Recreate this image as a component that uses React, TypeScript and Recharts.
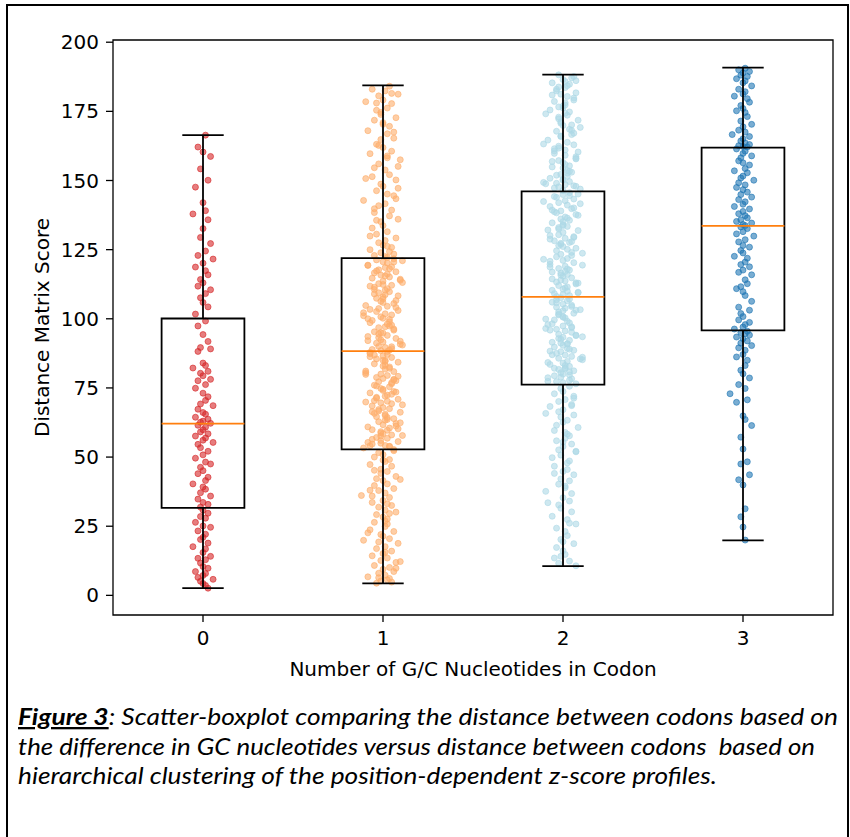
import React from "react";
import {
  ComposedChart,
  Scatter,
  XAxis,
  YAxis,
  ReferenceArea,
  ReferenceLine,
} from "recharts";

// categories on the x axis (number of G/C nucleotides)
const categories = [0, 1, 2, 3];
const colors = ["#d62728", "#fdae6b", "#add8e6", "#1f77b4"];
const yTicks = [0, 25, 50, 75, 100, 125, 150, 175, 200];

// box statistics
const whiskerLow = [2.6, 4.3, 10.6, 19.9];
const q1 = [31.6, 52.8, 76.2, 95.8];
const median = [62.1, 88.3, 107.9, 133.6];
const q3 = [100.1, 121.9, 146.1, 161.9];
const whiskerHigh = [166.4, 184.4, 188.3, 190.8];

// scatter values per group (score) and horizontal jitter (in jitter units)
const g0Y = [
  166.4, 162.1, 160.3, 158.7, 154.2, 150.1, 147.6, 142.0, 139.1, 137.9,
  135.8, 132.6, 129.4, 127.2, 124.5, 122.9, 121.6, 120.1, 118.7, 117.4,
  115.9, 114.2, 113.0, 111.8, 110.5, 109.1, 107.6, 105.9, 104.3, 101.7,
  99.2, 97.4, 94.3, 91.8, 89.6, 89.1, 88.2, 84.0, 83.1, 82.2,
  81.0, 80.3, 79.4, 78.1, 77.6, 76.2, 74.9, 73.1, 71.8, 70.5,
  69.2, 68.6, 67.3, 66.1, 65.5, 64.4, 63.7, 63.0, 62.6, 62.2,
  61.5, 60.8, 59.9, 59.1, 58.4, 57.6, 56.9, 56.1, 55.3, 54.6,
  53.4, 52.1, 50.8, 49.6, 48.2, 47.5, 46.3, 45.1, 44.0, 42.7,
  41.5, 40.3, 39.2, 38.4, 37.1, 35.9, 34.8, 33.6, 32.9, 31.9,
  30.8, 29.7, 28.5, 27.9, 26.4, 25.1, 24.6, 23.3, 22.1, 21.0,
  20.2, 18.9, 17.6, 16.8, 15.5, 14.1, 13.4, 12.9, 11.7, 10.4,
  9.8, 8.6, 7.9, 7.2, 6.5, 5.8, 5.1, 4.3, 3.6, 2.6,
];
const g0Jitter = [
  1, -2, 0, 3, -1, 2, -3, 0, 1, -4,
  2, 0, -1, 3, 1, -2, 4, 0, -3, 1,
  2, -1, 0, -2, 3, 1, -1, 0, 2, -3,
  1, -2, 0, 2, -1, 3, -2, 0, 1, -4,
  2, -1, 0, 3, -2, 1, -3, 0, 2, 1,
  -1, 4, -2, 0, 1, -3, 2, 0, -1, 3,
  -2, 1, 0, -1, 2, -3, 1, 0, 4, -2,
  -1, 2, 0, -3, 1, 3, -1, 0, -2, 2,
  1, -4, 0, 1, -1, 3, -2, 0, 2, -1,
  0, 2, -1, 1, -3, 0, 3, -2, 1, 0,
  -1, 2, -4, 1, 0, 3, -2, 1, -1, 0,
  2, -3, 1, 0, -2, 4, -1, 0, 1, 2,
];

const g1Y = [
  184.1, 183.0, 182.4, 181.2, 180.6, 179.1, 178.5, 177.8, 176.2, 175.4,
  173.9, 172.7, 171.8, 170.3, 169.6, 168.0, 166.9, 165.3, 164.8, 163.1,
  161.9, 160.6, 159.7, 158.2, 157.5, 156.0, 154.6, 153.8, 152.1, 151.4,
  150.2, 148.7, 147.9, 146.3, 145.1, 144.5, 142.8, 141.6, 140.9, 139.3,
  138.4, 137.2, 136.0, 135.1, 133.7, 132.8, 131.5, 130.6, 129.2, 128.3,
  127.5, 126.6, 125.8, 125.0, 124.3, 123.9, 123.4, 122.9, 122.5, 122.2,
  121.7, 121.3, 120.6, 120.2, 119.4, 118.8, 118.5, 117.7, 117.0, 116.6,
  115.8, 115.1, 114.7, 113.9, 113.6, 112.7, 112.1, 111.8, 110.9, 110.3,
  109.8, 109.0, 108.7, 107.9, 107.4, 106.6, 106.3, 105.5, 104.8, 104.5,
  103.7, 103.0, 102.6, 101.8, 101.4, 100.7, 100.2, 99.4, 98.9, 98.6,
  97.7, 97.1, 96.8, 95.9, 95.3, 94.8, 94.0, 93.6, 92.9, 92.4,
  91.6, 91.2, 90.5, 90.0, 89.6, 89.2, 88.9, 88.7, 88.5, 88.2,
  87.8, 87.1, 86.6, 86.0, 85.5, 84.6, 84.3, 83.7, 82.9, 82.6,
  81.8, 81.1, 80.9, 80.0, 79.5, 78.8, 78.4, 77.6, 77.2, 76.5,
  76.0, 75.4, 74.8, 74.5, 73.7, 73.2, 72.4, 72.0, 71.3, 70.9,
  70.2, 69.6, 69.3, 68.5, 67.9, 67.5, 66.7, 66.2, 65.8, 65.0,
  64.6, 63.9, 63.3, 62.8, 62.1, 61.7, 60.9, 60.5, 59.7, 59.2,
  58.4, 58.0, 57.1, 56.8, 56.0, 55.6, 54.7, 54.2, 53.8, 53.3,
  52.7, 51.6, 50.9, 50.0, 49.1, 48.4, 47.3, 46.7, 45.6, 44.8,
  44.1, 43.0, 42.2, 41.5, 40.3, 39.7, 38.6, 37.9, 37.0, 36.1,
  35.4, 34.3, 33.6, 32.5, 31.9, 30.8, 30.1, 29.2, 28.3, 27.6,
  26.4, 25.8, 24.9, 23.7, 23.1, 22.0, 21.4, 20.5, 19.3, 18.8,
  17.6, 16.9, 16.0, 15.1, 14.3, 13.5, 12.6, 11.9, 10.8, 10.1,
  9.4, 8.6, 8.0, 7.3, 6.7, 6.1, 5.6, 5.2, 4.8, 4.4,
  119.3, 116.2, 113.1, 110.6, 107.2, 104.1, 101.1, 97.4, 94.5, 91.9,
  89.9, 86.3, 83.2, 80.5, 77.9, 74.1, 71.6, 68.9, 66.4, 63.6,
  60.2, 57.6, 55.3, 118.1, 114.3, 111.4, 105.9, 102.2, 96.3, 93.2,
  87.4, 84.9, 79.2, 75.7, 72.7, 69.9, 64.3, 61.2, 58.7, 56.4,
  121.0, 109.4, 99.8, 92.1, 85.0, 78.1, 70.4, 62.4, 54.1, 115.5,
  135.6, 143.4, 150.7, 158.9, 167.5, 174.6, 181.5, 129.9, 155.1, 162.7,
  48.9, 41.9, 35.9, 29.6, 22.6, 15.6, 9.8, 45.2, 33.1, 19.9,
  120.5, 117.3, 112.4, 108.3, 103.4, 98.1, 95.0, 90.8, 86.9, 82.1,
  79.9, 76.9, 73.5, 67.2, 65.5, 59.9, 57.8, 55.0, 53.9, 100.0,
  126.2, 139.8, 147.2, 170.9, 178.0, 52.3, 38.0, 26.9, 12.2, 6.4,
];
const g1Jitter = [
  3, -5, 1, 7, -2, 0, -8, 4, 2, -3,
  -1, 6, -4, 0, 3, -7, 2, 5, -1, -3,
  0, 4, -6, 2, 8, -2, -4, 1, 3, -5,
  6, -1, 0, -3, 2, 5, -9, 1, -2, 4,
  -4, 3, 7, -1, 0, -5, 2, -3, 6, 1,
  -2, 0, 4, -6, 3, -1, 5, -4, 1, 2,
  5, -3, 0, 2, -7, 4, 1, -2, 6, -4,
  -1, 3, -5, 8, 0, -2, 4, -6, 2, 1,
  3, -4, 1, 0, -3, 6, -1, 5, -8, 2,
  -2, 7, -3, 1, 4, -1, 0, -5, 3, -6,
  4, 1, -2, 5, -4, 0, 2, -7, 6, -1,
  0, -3, 9, -2, 1, 4, -5, 3, -1, 2,
  -6, 2, 0, 4, -3, 1, 7, -4, 0, 3,
  1, -8, 5, -1, 2, -3, 0, 6, -2, 4,
  -4, 3, -1, 0, 5, -6, 2, 1, -3, 7,
  2, -1, 4, -5, 0, 3, -2, 8, -4, 1,
  -3, 5, 1, -2, 6, 0, -7, 3, 2, -1,
  0, 4, -3, 2, -1, 7, -5, 1, 3, -9,
  5, -2, 0, -4, 3, 1, -6, 4, -1, 2,
  -1, 6, -3, 0, 2, -4, 5, -2, 1, -10,
  3, 0, -5, 4, -2, 1, 6, -3, 0, 2,
  -4, 2, 1, -6, 5, -1, 0, 3, -2, 7,
  1, -3, 4, 0, -5, 2, -1, 6, -4, 3,
  0, 5, -2, 1, -7, 3, 2, -1, 4, -3,
  -7, 2, 9, -4, 0, 6, -9, 3, -2, 8,
  4, -6, 1, -8, 5, 0, -3, 9, -5, 2,
  7, -1, -7, 3, 8, -4, 0, -9, 5, -2,
  -6, 1, 7, -3, 4, -8, 2, 6, -1, -5,
  9, -2, 3, -7, 0, 5, -4, 8, -6, 1,
  -3, 6, -8, 2, 5, -1, 4, -6, 7, -2,
  0, 8, -5, 3, -7, 1, 6, -4, 2, -9,
  5, -3, 0, 7, -6, 2, -1, 8, -4, 3,
  -8, 4, 6, -2, 1, -5, 9, -1, 3, -7,
  2, -4, 7, 0, -3, 5, -6, 1, 8, -2,
];

const g2Y = [
  188.2, 187.1, 186.5, 185.3, 184.8, 183.6, 183.0, 181.7, 181.2, 180.4,
  179.1, 178.6, 177.3, 176.9, 175.5, 174.8, 173.6, 172.9, 171.8, 170.7,
  169.9, 168.5, 167.8, 166.6, 165.9, 164.6, 163.8, 162.9, 161.7, 161.0,
  159.8, 159.1, 158.0, 157.2, 156.5, 155.3, 154.9, 153.6, 153.0, 152.2,
  151.5, 150.8, 150.1, 149.6, 149.0, 148.5, 148.1, 147.7, 147.3, 146.9,
  155.8, 162.4, 168.1, 176.2, 180.9, 184.3, 171.2, 158.6, 151.9, 146.4,
  145.6, 144.9, 144.2, 143.3, 142.7, 142.0, 141.1, 140.6, 139.8, 139.0,
  138.3, 137.7, 136.8, 136.1, 135.6, 134.7, 134.0, 133.4, 132.5, 131.9,
  131.2, 130.4, 129.7, 129.1, 128.2, 127.6, 126.9, 126.1, 125.5, 124.6,
  124.0, 123.3, 122.4, 121.8, 121.1, 120.3, 119.7, 119.0, 118.2, 117.6,
  116.9, 116.0, 115.4, 114.8, 114.0, 113.3, 112.6, 112.0, 111.2, 110.7,
  110.0, 109.6, 109.1, 108.8, 108.4, 127.3, 133.0, 140.1, 118.7, 113.7,
  107.6, 107.1, 106.5, 106.0, 105.3, 104.9, 104.2, 103.8, 103.1, 102.5,
  102.0, 101.4, 100.8, 100.3, 99.6, 99.1, 98.5, 97.9, 97.4, 96.8,
  96.2, 95.6, 95.1, 94.4, 93.9, 93.3, 92.6, 92.2, 91.5, 91.0,
  90.4, 89.8, 89.3, 88.6, 88.1, 87.5, 86.9, 86.4, 85.7, 85.2,
  84.6, 84.0, 83.5, 82.8, 82.3, 81.7, 81.2, 80.5, 80.0, 79.4,
  78.9, 78.3, 77.8, 77.3, 76.9, 76.5, 98.2, 90.9, 83.1, 101.7,
  75.6, 74.8, 73.7, 72.9, 72.0, 70.8, 70.1, 69.0, 68.3, 67.1,
  66.4, 65.2, 64.5, 63.3, 62.6, 61.5, 60.7, 59.6, 58.9, 57.7,
  56.8, 55.9, 54.7, 53.8, 52.6, 51.9, 50.7, 49.8, 48.6, 47.9,
  46.7, 45.5, 44.8, 43.6, 42.1, 41.4, 40.2, 38.9, 37.6, 36.8,
  35.3, 34.1, 32.7, 31.5, 30.2, 28.6, 27.4, 25.8, 24.3, 23.1,
  21.6, 20.2, 18.7, 17.3, 16.1, 14.8, 13.5, 12.4, 11.6, 10.7,
  186.1, 182.4, 178.1, 174.1, 170.1, 166.1, 160.3, 156.9, 152.7, 149.3,
  144.5, 141.6, 138.7, 135.1, 132.1, 129.4, 126.5, 123.7, 120.8, 117.1,
  114.4, 111.5, 109.4, 105.8, 102.9, 99.9, 97.1, 94.1, 91.2, 88.3,
  85.5, 82.1, 79.7, 77.4, 185.8, 179.8, 172.3, 163.2, 157.8, 150.4,
  143.9, 137.4, 130.1, 125.1, 119.4, 115.8, 110.3, 104.4, 96.5, 89.0,
  81.9, 78.7, 187.6, 176.6, 169.2, 160.7, 154.5, 147.9, 142.4, 136.4,
  128.8, 122.9, 116.5, 112.9, 106.9, 100.6, 93.5, 87.0, 80.8, 183.8,
  71.3, 65.8, 58.3, 52.1, 44.1, 39.5, 33.5, 26.1, 19.4, 14.1,
  145.1, 139.3, 133.7, 127.9, 121.5, 118.0, 113.0, 108.1, 103.3, 95.9,
  92.9, 86.1, 84.2, 174.3, 167.1, 161.5, 153.3, 148.8, 68.6, 55.4,
];
const g2Jitter = [
  -2, 4, 0, -5, 3, 1, -3, 6, -1, 2,
  5, -4, 1, 0, -6, 3, 2, -2, 7, -1,
  0, 3, -3, 4, -1, -7, 2, 5, -2, 1,
  -4, 1, 6, -2, 0, 3, -5, 2, 4, -1,
  2, -6, 0, 3, -3, 1, 5, -2, -4, 8,
  1, -2, 4, 0, -5, 2, -1, 6, -3, 0,
  3, 0, -4, 5, 1, -2, 2, -6, 4, -1,
  -3, 6, 1, -1, 3, -5, 0, 2, -2, 7,
  0, -2, 5, 1, -4, 3, -1, 0, 6, -3,
  4, -1, -3, 2, 0, 5, -6, 1, -2, 3,
  -5, 2, 0, 4, -1, -3, 6, -2, 1, 0,
  2, 7, -4, 0, 3, -1, -2, 5, -6, 1,
  -1, 3, 2, -5, 0, 4, -3, 1, 6, -2,
  5, -2, 0, 1, -4, 2, 3, -7, 0, 4,
  -3, 1, 4, -2, 6, 0, -1, 3, -5, 2,
  0, -4, 2, 5, -1, -3, 1, 4, -2, 9,
  2, 0, -6, 3, 1, -2, 5, -1, 0, -4,
  -1, 4, 3, -3, 0, 6, -5, 2, 1, -2,
  3, -1, 0, -4, 5, 1, -2, 4, -6, 0,
  -2, 5, -1, 2, 0, -3, 7, -4, 1, 3,
  1, -3, 4, 0, -2, 6, -1, -5, 3, 2,
  -4, 2, 0, 5, -1, 3, -2, 1, -8, 4,
  0, 3, -2, -1, 4, -5, 2, 6, -3, 1,
  2, -1, 5, -3, 0, 1, -4, 3, -2, 6,
  6, -3, 1, -8, 4, -1, 7, -5, 2, -9,
  3, 8, -4, 0, -7, 5, -2, 9, -6, 1,
  -5, 2, 7, -3, 0, -8, 4, 6, -1, -6,
  8, -4, 3, -7, 1, 5, -2, -9, 6, 0,
  -3, 7, -6, 2, 9, -1, -5, 4, -8, 3,
  1, -7, 5, -2, 8, -4, 0, 6, -9, 2,
  -6, 4, -1, 7, -3, 0, 9, -5, 3, -2,
  5, -8, 2, 6, -4, 1, -7, 3, 0, -1,
  7, -5, 0, 4, -9, 2, 6, -3, 8, -6,
  -2, 9, -7, 1, 5, -4, 3, -8, 4, 0,
];

const g3Y = [
  190.6, 190.0, 189.4, 188.9, 188.1, 187.6, 186.8, 186.0, 185.3, 184.2,
  183.0, 182.1, 181.3, 180.5, 179.6, 178.3, 177.1, 176.0, 175.2, 174.6,
  173.1, 171.5, 170.3, 169.4, 168.2, 167.5, 166.6, 165.9, 165.1, 164.3,
  163.6, 163.0, 162.6, 162.3, 162.1, 161.4, 160.6, 159.8, 158.9, 158.2,
  157.1, 156.4, 155.6, 154.3, 153.5, 152.8, 151.6, 150.9, 150.1, 149.2,
  148.4, 147.5, 146.7, 145.8, 144.9, 144.0, 143.1, 142.3, 141.4, 140.6,
  139.7, 138.8, 138.0, 137.3, 136.5, 135.8, 135.2, 134.6, 134.1, 133.7,
  133.2, 132.6, 131.5, 130.7, 129.9, 128.6, 127.8, 126.5, 125.9, 124.7,
  123.8, 122.6, 121.9, 120.5, 119.6, 118.8, 117.6, 116.8, 115.9, 114.1,
  112.7, 111.6, 110.9, 109.8, 108.4, 106.3, 104.2, 103.1, 101.9, 100.8,
  99.6, 98.7, 97.9, 97.0, 96.3, 95.5, 95.0, 94.6, 94.1, 93.4,
  92.8, 92.0, 91.2, 90.3, 89.5, 88.6, 87.1, 86.2, 85.0, 83.1,
  81.4, 80.1, 78.6, 76.2, 74.8, 72.9, 70.7, 69.8, 64.9, 63.6,
  61.4, 57.2, 52.9, 48.3, 47.5, 43.6, 41.8, 39.9, 31.3, 28.4,
  24.7, 20.0,
];
const g3Jitter = [
  1, -2, 3, 0, -1, 2, -3, 1, 0, 4,
  -2, 1, 0, -4, 2, 3, -1, 0, -3, 1,
  2, -1, 4, 0, -2, 1, -5, 3, 0, -1,
  1, 3, -2, 0, 2, -3, 1, 0, 4, -1,
  -2, 0, 3, 1, -4, 2, 0, -1, 5, -2,
  1, -3, 0, 2, -1, 4, -2, 1, 0, -4,
  3, 0, -2, 1, 2, -1, -3, 4, 0, 1,
  -1, 2, 0, -3, 5, 1, -2, 0, 3, -1,
  0, -4, 2, 1, -1, 3, 0, -2, 4, 1,
  2, -1, -3, 0, 1, 4, -2, 3, -1, 0,
  -2, 3, 1, 0, -4, 2, -1, 1, 3, -3,
  0, 2, -1, 4, -2, 1, 0, -3, 2, 1,
  -1, 0, 3, -2, 1, -6, 2, -3, 0, 1,
  4, -1, 0, 2, -1, 3, -2, 0, 1, -1,
  0, 1,
];

const groupY = [g0Y, g1Y, g2Y, g3Y];
const groupJitter = [g0Jitter, g1Jitter, g2Jitter, g3Jitter];
// width of one jitter step, in category units, for each group
const jitterUnit = [0.014, 0.012, 0.012, 0.012];

const scatterData = categories.map((c, gi) =>
  groupY[gi].map((y, i) => ({ x: c + (groupJitter[gi][i] ?? 0) * jitterUnit[gi], y }))
);

const BOX_HALF = 0.23;
const CAP_HALF = 0.115;
const Y_MIN = -7.1;
const Y_MAX = 200.8;
const axisFont = "'DejaVu Sans', Verdana, sans-serif";

const makeDot = (color: string) => (p: any) => (
  <circle
    cx={p.cx}
    cy={p.cy}
    r={3}
    fill={color}
    fillOpacity={0.6}
    stroke={color}
    strokeOpacity={0.6}
    strokeWidth={1}
  />
);

const YLabel = (props: any) => {
  const vb = props.viewBox || {};
  const cy = vb.height ? vb.y + vb.height / 2 : 327.5;
  const x = 49;
  return (
    <text x={x} y={cy} transform={`rotate(-90, ${x}, ${cy})`} textAnchor="middle" fontSize={20} fontFamily={axisFont} fill="#000">
      Distance Matrix Score
    </text>
  );
};

const XLabel = (props: any) => {
  const vb = props.viewBox || {};
  const cx = vb.width ? vb.x + vb.width / 2 : 473;
  return (
    <text x={cx} y={676} textAnchor="middle" fontSize={20} fontFamily={axisFont} fill="#000">
      Number of G/C Nucleotides in Codon
    </text>
  );
};

export default function App() {
  const tick = { fill: "#000", fontSize: 20, fontFamily: axisFont };
  return (
    <div style={{ position: "absolute", left: 0, top: 0, width: 850, height: 837, background: "#fff", overflow: "hidden" }}>
      <div style={{ position: "absolute", left: 6, top: 4, width: 839, height: 900, border: "2px solid #000" }} />
      <div style={{ position: "absolute", left: 0, top: 0 }}>
        <ComposedChart width={850} height={700} margin={{ top: 40, right: 17, bottom: 55, left: 0 }}>
          <XAxis
            type="number"
            dataKey="x"
            domain={[-0.5, 3.5]}
            ticks={categories}
            allowDataOverflow
            interval={0}
            axisLine={false}
            tickLine={{ stroke: "#000", strokeWidth: 1.3 }}
            tickSize={7}
            tickMargin={9}
            tick={tick}
            height={30}
            label={<XLabel />}
          />
          <YAxis
            type="number"
            dataKey="y"
            domain={[Y_MIN, Y_MAX]}
            ticks={yTicks}
            allowDataOverflow
            interval={0}
            axisLine={false}
            tickLine={{ stroke: "#000", strokeWidth: 1.3 }}
            tickSize={7}
            tickMargin={7}
            tick={tick}
            width={113}
            label={<YLabel />}
          />
          {categories.map((c, gi) => (
            <Scatter
              key={`s${c}`}
              data={scatterData[gi]}
              fill={colors[gi]}
              shape={makeDot(colors[gi])}
              isAnimationActive={false}
            />
          ))}
          {categories.map((c, gi) => (
            <ReferenceArea
              key={`box${c}`}
              x1={c - BOX_HALF}
              x2={c + BOX_HALF}
              y1={q1[gi]}
              y2={q3[gi]}
              fill="none"
              fillOpacity={0}
              stroke="#000"
              strokeWidth={1.8}
              ifOverflow="visible"
              zIndex={700}
            />
          ))}
          {categories.map((c, gi) => (
            <ReferenceLine key={`wl${c}`} segment={[{ x: c, y: whiskerLow[gi] }, { x: c, y: q1[gi] }]} stroke="#000" strokeWidth={1.8} zIndex={700} />
          ))}
          {categories.map((c, gi) => (
            <ReferenceLine key={`wh${c}`} segment={[{ x: c, y: q3[gi] }, { x: c, y: whiskerHigh[gi] }]} stroke="#000" strokeWidth={1.8} zIndex={700} />
          ))}
          {categories.map((c, gi) => (
            <ReferenceLine key={`cl${c}`} segment={[{ x: c - CAP_HALF, y: whiskerLow[gi] }, { x: c + CAP_HALF, y: whiskerLow[gi] }]} stroke="#000" strokeWidth={1.8} zIndex={700} />
          ))}
          {categories.map((c, gi) => (
            <ReferenceLine key={`ch${c}`} segment={[{ x: c - CAP_HALF, y: whiskerHigh[gi] }, { x: c + CAP_HALF, y: whiskerHigh[gi] }]} stroke="#000" strokeWidth={1.8} zIndex={700} />
          ))}
          {categories.map((c, gi) => (
            <ReferenceLine key={`md${c}`} segment={[{ x: c - BOX_HALF, y: median[gi] }, { x: c + BOX_HALF, y: median[gi] }]} stroke="#ff7f0e" strokeWidth={1.8} zIndex={710} />
          ))}
          <ReferenceArea x1={-0.5} x2={3.5} y1={Y_MIN} y2={Y_MAX} fill="none" fillOpacity={0} stroke="#000" strokeWidth={1.3} ifOverflow="visible" zIndex={720} />
        </ComposedChart>
      </div>
      <svg width={850} height={837} style={{ position: "absolute", left: 0, top: 0, pointerEvents: "none" }}>
        <g fontFamily="Lato, 'Open Sans', sans-serif" fontSize={23} fill="#000">
          <text x={18} y={725} textLength={820} lengthAdjust="spacingAndGlyphs">
            <tspan fontWeight="bold" fontStyle="italic" textDecoration="underline">Figure 3</tspan>
            <tspan fontStyle="italic">: Scatter-boxplot comparing the distance between codons based on</tspan>
          </text>
          <text x={18} y={755} textLength={797} lengthAdjust="spacingAndGlyphs" fontStyle="italic" style={{ whiteSpace: "pre" }}>
            {"the difference in GC nucleotides versus distance between codons  based on"}
          </text>
          <text x={18} y={784} textLength={699} lengthAdjust="spacingAndGlyphs" fontStyle="italic">
            hierarchical clustering of the position-dependent z-score profiles.
          </text>
        </g>
      </svg>
    </div>
  );
}
